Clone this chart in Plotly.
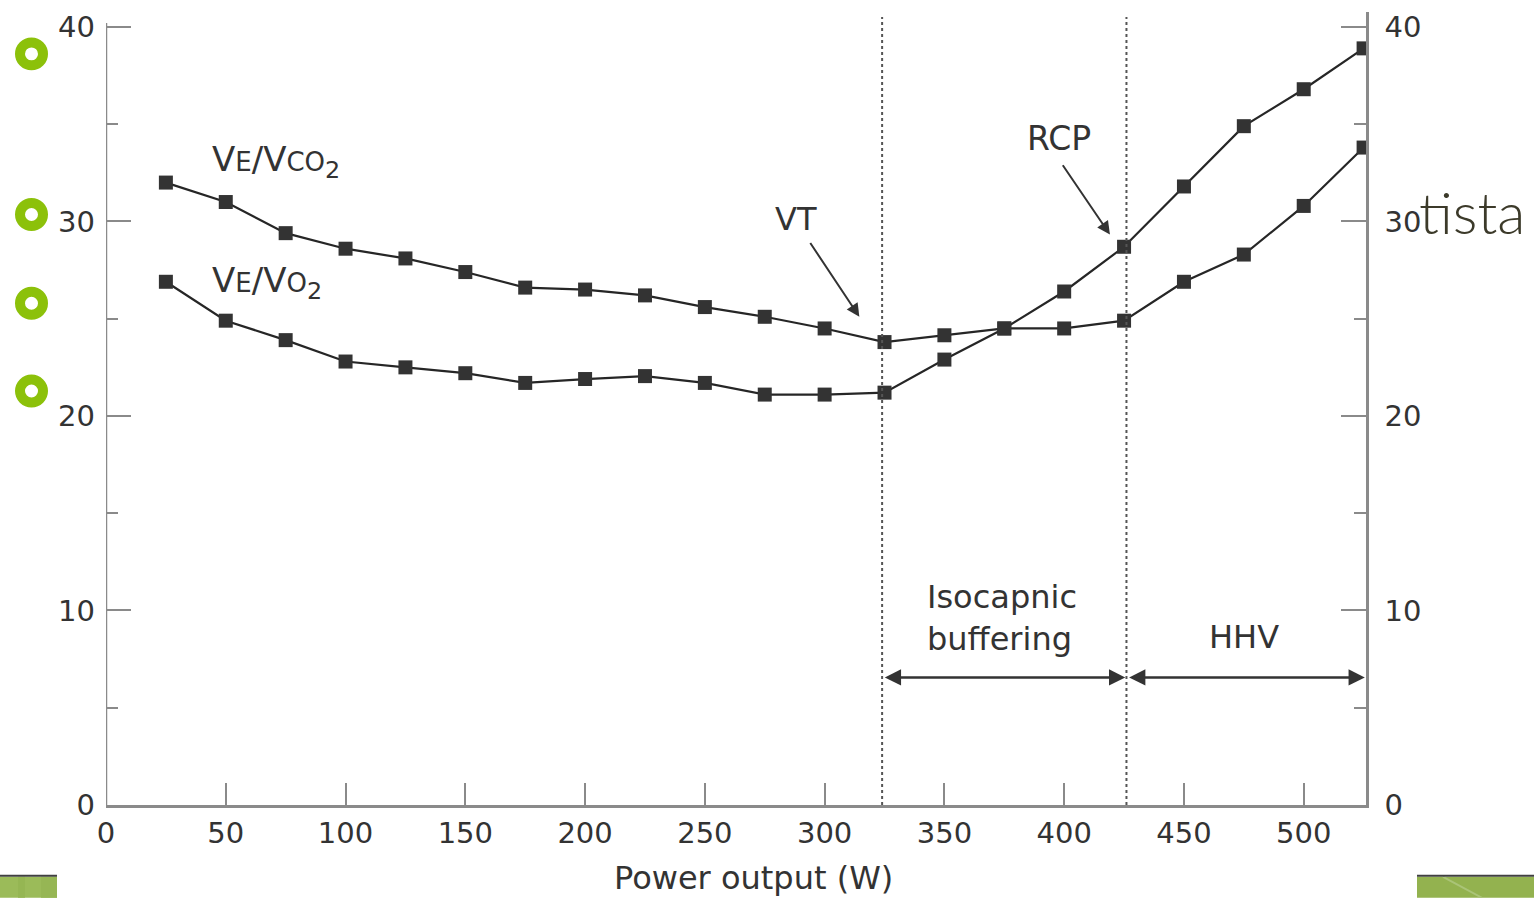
import plotly.graph_objects as go

# ---- data ----
power = [25, 50, 75, 100, 125, 150, 175, 200, 225, 250, 275, 300, 325,
         350, 375, 400, 425, 450, 475, 500, 525]
ve_vco2 = [32.0, 31.0, 29.4, 28.6, 28.1, 27.4, 26.6, 26.5, 26.2, 25.6, 25.1, 24.5, 23.8,
           24.15, 24.5, 24.5, 24.9, 26.9, 28.3, 30.8, 33.8]
ve_vo2 = [26.9, 24.9, 23.9, 22.8, 22.5, 22.2, 21.7, 21.9, 22.05, 21.7, 21.1, 21.1, 21.2,
          22.9, 24.5, 26.4, 28.7, 31.8, 34.9, 36.8, 38.9]
x_ticks = [0, 50, 100, 150, 200, 250, 300, 350, 400, 450, 500]
y_ticks = [0, 10, 20, 30, 40]
vt_x = 324
rcp_x = 426
x_max = 526
phase_arrow_y = 6.56

W, H = 1534, 898
L, R, T, B = 106, 168, 10, 93
PW, PH = W - L - R, H - T - B


def px(x):
    return (x - L) / PW


def py(y):
    return (H - B - y) / PH


TXT = "#333333"
AX = "#8a8a8a"
FONT = "DejaVu Sans"

fig = go.Figure()
fig.add_trace(go.Scatter(x=power, y=ve_vco2, mode="lines+markers",
                         line=dict(color="#262626", width=2.2),
                         marker=dict(symbol="square", size=14, color="#333333"),
                         showlegend=False))
fig.add_trace(go.Scatter(x=power, y=ve_vo2, mode="lines+markers",
                         line=dict(color="#262626", width=2.2),
                         marker=dict(symbol="square", size=14, color="#333333"),
                         showlegend=False))
fig.add_trace(go.Scatter(x=[0], y=[0], yaxis="y2", mode="markers",
                         marker=dict(opacity=0), showlegend=False, hoverinfo="skip"))

shapes = []
# left axis line
shapes.append(dict(type="line", xref="x", yref="y", x0=0, x1=0, y0=0, y1=40.2,
                   line=dict(color=AX, width=2.5)))
# vertical dotted lines
for xv in (vt_x, rcp_x):
    shapes.append(dict(type="line", xref="x", yref="paper", x0=xv, x1=xv, y0=0, y1=py(15),
                       line=dict(color="#555555", width=2, dash="dot")))

# green ring bullets
for cy in (52, 213, 302, 390):
    r = 11.5
    shapes.append(dict(type="circle", xref="paper", yref="paper",
                       x0=px(31.5 - r), x1=px(31.5 + r), y0=py(cy + r), y1=py(cy - r),
                       line=dict(color="#8cc10a", width=10), fillcolor="rgba(0,0,0,0)"))

# bottom decorative bars
shapes.append(dict(type="rect", xref="paper", yref="paper", x0=px(0), x1=px(57),
                   y0=py(898), y1=py(877), line=dict(width=0), fillcolor="#9bbb59"))
shapes.append(dict(type="rect", xref="paper", yref="paper", x0=px(18), x1=px(25),
                   y0=py(898), y1=py(877), line=dict(width=0), fillcolor="#95b653"))
shapes.append(dict(type="rect", xref="paper", yref="paper", x0=px(41), x1=px(57),
                   y0=py(898), y1=py(877), line=dict(width=0), fillcolor="#96b654"))
shapes.append(dict(type="rect", xref="paper", yref="paper", x0=px(0), x1=px(57),
                   y0=py(877), y1=py(875), line=dict(width=0), fillcolor="#404040"))
shapes.append(dict(type="rect", xref="paper", yref="paper", x0=px(1417), x1=px(1534),
                   y0=py(898), y1=py(877), line=dict(width=0), fillcolor="#93b24f"))
shapes.append(dict(type="line", xref="paper", yref="paper", x0=px(1443), x1=px(1482),
                   y0=py(877), y1=py(898), line=dict(color="#aac477", width=2)))
shapes.append(dict(type="rect", xref="paper", yref="paper", x0=px(1417), x1=px(1534),
                   y0=py(877), y1=py(875), line=dict(width=0), fillcolor="#404040"))

ann = []
small = '<span style="font-size:26px">'
ann.append(dict(x=43.5, y=33.1, xref="x", yref="y", xanchor="left", yanchor="middle",
                text="V" + small + "E</span>/V" + small + "CO</span><sub>2</sub>",
                showarrow=False, font=dict(family=FONT, size=34, color=TXT)))
ann.append(dict(x=43.5, y=26.85, xref="x", yref="y", xanchor="left", yanchor="middle",
                text="V" + small + "E</span>/V" + small + "O</span><sub>2</sub>",
                showarrow=False, font=dict(family=FONT, size=34, color=TXT)))
ann.append(dict(x=288.2, y=30.15, xref="x", yref="y", text="VT", showarrow=False,
                font=dict(family=FONT, size=32, color=TXT)))
ann.append(dict(x=397.7, y=34.26, xref="x", yref="y", text="RCP", showarrow=False,
                font=dict(family=FONT, size=33, color=TXT)))
# VT arrow
ann.append(dict(x=314.5, y=25.1, ax=293.6, ay=28.97, xref="x", yref="y", axref="x", ayref="y",
                text="", showarrow=True, arrowhead=2, arrowsize=1.3, arrowwidth=2,
                arrowcolor="#333333"))
# RCP arrow
ann.append(dict(x=419.1, y=29.33, ax=399.0, ay=32.97, xref="x", yref="y", axref="x", ayref="y",
                text="", showarrow=True, arrowhead=2, arrowsize=1.3, arrowwidth=2,
                arrowcolor="#333333"))
# phase arrows
for a0, a1 in ((vt_x, rcp_x), (rcp_x, x_max)):
    ann.append(dict(x=a1 - 0.5, y=phase_arrow_y, ax=a0 + 0.5, ay=phase_arrow_y,
                    xref="x", yref="y", axref="x", ayref="y", text="", showarrow=True,
                    arrowside="end+start", arrowhead=2, startarrowhead=2,
                    arrowsize=1.3, startarrowsize=1.3, arrowwidth=2.5, arrowcolor="#333333"))
ann.append(dict(x=341.7, y=9.64, xref="x", yref="y", xanchor="left", yanchor="middle",
                align="left", text="Isocapnic<br>buffering", showarrow=False,
                font=dict(family=FONT, size=32, color=TXT)))
ann.append(dict(x=475.1, y=8.62, xref="x", yref="y", text="HHV", showarrow=False,
                font=dict(family=FONT, size=32, color=TXT)))
ann.append(dict(x=px(754), y=py(878), xref="paper", yref="paper", xanchor="center",
                yanchor="middle", text="Power output (W)",
                showarrow=False, font=dict(family=FONT, size=32, color=TXT)))
ann.append(dict(x=px(1417), y=py(210), xref="paper", yref="paper", xanchor="left",
                yanchor="middle", text="tista", showarrow=False,
                font=dict(family="Lato", size=58, color="#3c3a2a", weight=300)))

fig.update_layout(
    width=W, height=H, margin=dict(l=L, r=R, t=T, b=B),
    paper_bgcolor="white", plot_bgcolor="white",
    shapes=shapes, annotations=ann,
    xaxis=dict(range=[0, x_max], tickvals=x_ticks, ticks="inside", ticklen=22,
               tickwidth=2, tickcolor=AX, showline=True, linecolor=AX, linewidth=2.5,
               showgrid=False, zeroline=False, ticklabelstandoff=0,
               tickfont=dict(family=FONT, size=29, color=TXT)),
    yaxis=dict(range=[0, 40.77], tickvals=y_ticks, ticks="inside", ticklen=25,
               tickwidth=2, tickcolor=AX, showline=False, showgrid=False, zeroline=False,
               ticklabelstandoff=10,
               minor=dict(ticks="inside", ticklen=12, tickwidth=2, tickcolor=AX,
                          tickvals=[5, 15, 25, 35]),
               tickfont=dict(family=FONT, size=29, color=TXT)),
    yaxis2=dict(range=[0, 40.77], tickvals=y_ticks, ticks="inside", ticklen=25,
                tickwidth=2, tickcolor=AX, showline=True, linecolor=AX, linewidth=2.5,
                showgrid=False, zeroline=False, overlaying="y", side="right", anchor="x",
                ticklabelstandoff=10,
                minor=dict(ticks="inside", ticklen=12, tickwidth=2, tickcolor=AX,
                           tickvals=[5, 15, 25, 35]),
                tickfont=dict(family=FONT, size=29, color=TXT)),
)

fig.write_html("out.html", config={"displayModeBar": False},
               post_script="document.body.style.margin='0';document.body.style.overflow='hidden';")
